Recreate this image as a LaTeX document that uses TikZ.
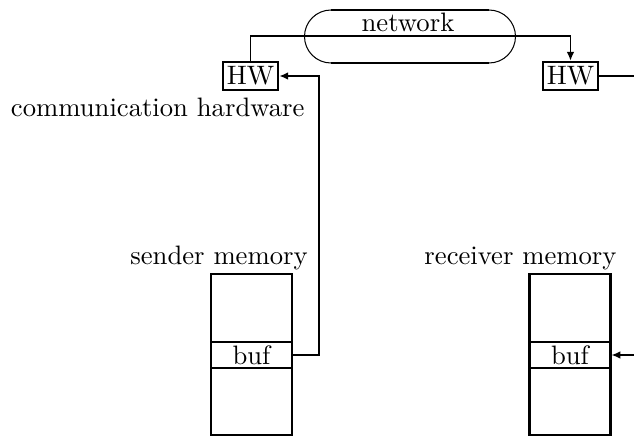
\documentclass[tikz,border=0pt]{standalone}
\usetikzlibrary{arrows.meta}
\begin{document}
\begin{tikzpicture}[x=0.39pt,y=-0.39pt,
  thickln/.style={line width=0.95pt},
  thinln/.style={line width=0.4pt},
  midln/.style={line width=0.65pt},
  txt/.style={font=\fontsize{10.4}{12}\selectfont},
  hwbox/.style={draw,line width=0.95pt,minimum width=55*0.39pt,minimum height=28*0.39pt,inner sep=0pt,txt},
  membox/.style={draw,line width=0.95pt,minimum width=81*0.39pt,minimum height=161*0.39pt,inner sep=0pt},
  bufbox/.style={draw,line width=0.65pt,minimum width=81*0.39pt,minimum height=26*0.39pt,inner sep=0pt,txt},
  lbl/.style={inner sep=0pt,txt},
  tip/.style={-{Latex[length=3.5pt,width=3pt]}}
]
\useasboundingbox (0,0) rectangle (634,439);
% network stadium
\node[lbl] (net) at (408,22) {network};
\draw[thickln] (331,10) -- (489,10);
\draw[thickln] (331,63) -- (489,63);
\draw[thinln] (331,10) arc[start angle=90,end angle=270,radius=26.5*0.39pt];
\draw[thinln] (489,10) arc[start angle=90,end angle=-90,radius=26.5*0.39pt];
% HW boxes
\node[hwbox] (hwL) at (250.5,76) {HW};
\node[hwbox] (hwR) at (570.5,76) {HW};
\node[lbl,anchor=east] (chw) at (305,107) {communication hardware};
% memories
\node[lbl] (sml) at (219,258) {sender memory};
\node[lbl] (rml) at (520.5,258) {receiver memory};
\node[membox] (smem) at (251.5,354.5) {};
\node[membox] (rmem) at (570,354.5) {};
\node[bufbox] (sbuf) at (251.5,355) {buf};
\node[bufbox] (rbuf) at (570,355) {buf};
% connectors
\draw[midln,tip] (hwL.north) -- ++(0,-25) -| (hwR.north);
\draw[thickln,tip] (sbuf.east) -- ++(26,0) |- (hwL.east);
\coordinate (outR) at (634,76);
\coordinate (inR) at (634,355);
\draw[thickln] (hwR.east) -- (outR);
\draw[thickln,tip] (inR) -- (rbuf.east);
\end{tikzpicture}
\end{document}
